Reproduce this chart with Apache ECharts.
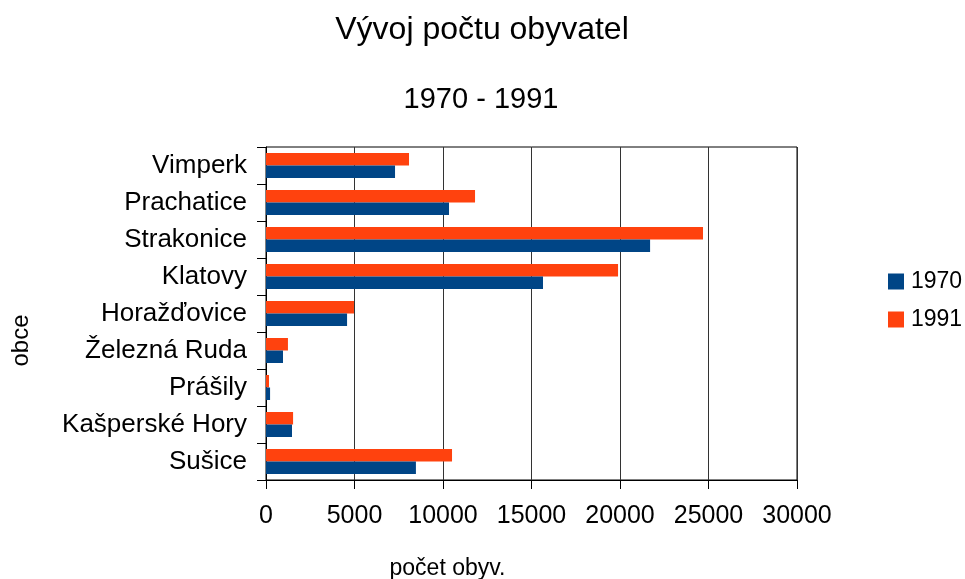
<!DOCTYPE html>
<html>
<head>
<meta charset="utf-8">
<script src="https://cdn.jsdelivr.net/npm/echarts@6/dist/echarts.min.js"></script>
<style>
  html, body { margin: 0; padding: 0; background: #fff; }
  #main { width: 965px; height: 579px; }
</style>
</head>
<body>
<div id="main"></div>
<script>
// obce odspodu nahoru (jako v grafu)
var obce = ['Sušice', 'Kašperské Hory', 'Prášily', 'Železná Ruda', 'Horažďovice', 'Klatovy', 'Strakonice', 'Prachatice', 'Vimperk'];
var rok1970 = [8470, 1470, 230, 960, 4580, 15650, 21700, 10340, 7290];
var rok1991 = [10510, 1530, 170, 1240, 4970, 19890, 24690, 11810, 8080];
var osaTicks = [0, 5000, 10000, 15000, 20000, 25000, 30000];

var font = 'Liberation Sans, Arial, sans-serif';

var myChart = echarts.init(document.getElementById('main'));
var option = {
  animation: false,
  textStyle: { fontFamily: font },
  title: [
    {
      text: 'Vývoj počtu obyvatel',
      left: 477,
      textAlign: 'center',
      top: 9,
      textStyle: { fontSize: 32, fontWeight: 'normal', color: '#000', fontFamily: font }
    },
    {
      text: '1970 - 1991',
      left: 476,
      textAlign: 'center',
      top: 80,
      textStyle: { fontSize: 29, fontWeight: 'normal', color: '#000', fontFamily: font }
    }
  ],
  legend: {
    orient: 'vertical',
    left: 883,
    top: 265,
    itemWidth: 16,
    itemHeight: 16,
    itemGap: 15,
    icon: 'rect',
    data: ['1970', '1991'],
    textStyle: { fontSize: 23, color: '#000', fontFamily: font, padding: [0, 0, 0, 2] }
  },
  grid: {
    left: 266,
    right: 168,
    top: 147,
    bottom: 99,
    containLabel: false,
    outerBoundsMode: 'none',
    show: true,
    borderColor: '#000',
    borderWidth: 1
  },
  xAxis: {
    type: 'value',
    min: osaTicks[0],
    max: osaTicks[osaTicks.length - 1],
    interval: osaTicks[1] - osaTicks[0],
    name: 'počet obyv.',
    nameLocation: 'middle',
    nameGap: 77,
    nameTextStyle: { fontSize: 23, color: '#000', fontFamily: font, padding: [0, 168, 0, 0] },
    axisLine: { show: true, lineStyle: { color: '#000' } },
    axisTick: { show: true, inside: false, length: 9, lineStyle: { color: '#000' } },
    axisLabel: {
      fontSize: 25, color: '#000', margin: 24, fontFamily: font,
      formatter: function (v) { return String(v); }
    },
    splitLine: { show: true, lineStyle: { color: '#333', width: 1 } }
  },
  yAxis: {
    type: 'category',
    data: obce,
    name: 'obce',
    nameLocation: 'middle',
    nameGap: 233,
    nameTextStyle: { fontSize: 24, color: '#000', fontFamily: font, padding: [0, 54, 0, 0] },
    axisLine: { show: true, lineStyle: { color: '#000' } },
    axisTick: { show: true, length: 9, lineStyle: { color: '#000' } },
    axisLabel: { fontSize: 26, color: '#000', margin: 19, fontFamily: font },
    splitLine: { show: false }
  },
  series: [
    {
      name: '1991',
      type: 'bar',
      data: rok1991,
      barWidth: 12.5,
      barGap: '0%',
      itemStyle: { color: '#ff420e' }
    },
    {
      name: '1970',
      type: 'bar',
      data: rok1970,
      barWidth: 12.5,
      barGap: '0%',
      itemStyle: { color: '#004586' }
    }
  ]
};
myChart.setOption(option);
</script>
</body>
</html>
